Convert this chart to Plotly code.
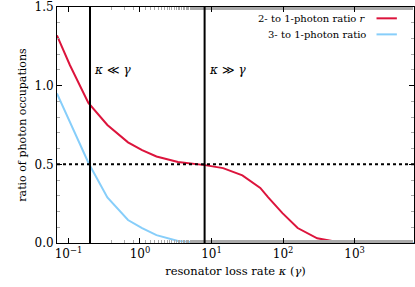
import math
import plotly.graph_objects as go

# data
kappa_red = [0.069, 0.105, 0.19, 0.35, 0.68, 1.07, 1.7, 3.4, 8.1, 14.5, 27, 48, 62, 98, 160, 300, 575, 1300, 7000]
ratio_2to1 = [1.32, 1.13, 0.89, 0.75, 0.64, 0.59, 0.55, 0.515, 0.495, 0.476, 0.43, 0.35, 0.29, 0.19, 0.095, 0.03, 0.006, 0.0, 0.0]
kappa_blue = [0.069, 0.19, 0.35, 0.68, 1.07, 1.7, 3.4, 8.1, 7000]
ratio_3to1 = [0.95, 0.51, 0.29, 0.146, 0.095, 0.05, 0.013, 0.0, 0.0]
regime_lines = [0.2, 8]
regime_labels = ["<i>κ</i> ≪ <i>γ</i>", "<i>κ</i> ≫ <i>γ</i>"]
half_level = 0.5
xtick_vals = [0.1, 1, 10, 100, 1000]
xtick_text = ["10<sup>−1</sup>", "10<sup>0</sup>", "10<sup>1</sup>", "10<sup>2</sup>", "10<sup>3</sup>"]
legend_names = ["2- to 1-photon ratio <i>r</i>", "3- to 1-photon ratio"]
colors = ["#dc143c", "#87cefa"]

FONT = "DejaVu Serif"

fig = go.Figure()
fig.add_trace(go.Scatter(x=kappa_red, y=ratio_2to1, mode="lines",
                         line=dict(color=colors[0], width=2), showlegend=False))
fig.add_trace(go.Scatter(x=kappa_blue, y=ratio_3to1, mode="lines",
                         line=dict(color=colors[1], width=2), showlegend=False))

for xv in regime_lines:
    fig.add_shape(type="line", xref="x", yref="paper", x0=xv, x1=xv, y0=0, y1=1,
                  line=dict(color="black", width=2))
fig.add_shape(type="line", xref="paper", yref="y", x0=0, x1=1, y0=half_level, y1=half_level,
              line=dict(color="black", width=2, dash="3px,3px"))

for xv, lab in zip(regime_lines, regime_labels):
    fig.add_annotation(x=math.log10(xv), y=1.1, xref="x", yref="y", text=lab, showarrow=False,
                       xanchor="left", xshift=2, font=dict(size=12, family=FONT, color="black"))

# legend (text left, line sample right)
for i, (name, c) in enumerate(zip(legend_names, colors)):
    yy = 0.952 - i * 0.068
    fig.add_annotation(x=0.872, y=yy, xref="paper", yref="paper", text=name, showarrow=False,
                       xanchor="right", yanchor="middle", font=dict(size=10, family=FONT, color="black"))
    fig.add_shape(type="line", xref="paper", yref="paper", x0=0.895, x1=0.952, y0=yy, y1=yy,
                  line=dict(color=c, width=2))

axis_common = dict(showline=True, linecolor="black", linewidth=1, mirror="allticks",
                   ticks="inside", ticklen=5, tickcolor="black", showgrid=False, zeroline=False,
                   tickfont=dict(size=12, family=FONT, color="black"))

fig.update_xaxes(type="log", range=[-1.16, 3.83], tickvals=xtick_vals, ticktext=xtick_text,
                 title=dict(text="resonator loss rate <i>κ</i> (<i>γ</i>)", font=dict(size=11.5, family=FONT, color="black"), standoff=6),
                 minor=dict(ticks="inside", ticklen=3, tickcolor="#aaaaaa"),
                 **axis_common)
fig.update_yaxes(range=[0, 1.5], tickvals=[0, 0.5, 1.0, 1.5], tickformat=".1f",
                 title=dict(text="ratio of photon occupations", font=dict(size=11, family=FONT, color="black"), standoff=5),
                 minor=dict(ticks="inside", ticklen=3, tickcolor="#aaaaaa", dtick=0.1),
                 **axis_common)

fig.update_layout(width=415, height=287, margin=dict(l=57, r=1, t=7, b=44),
                  plot_bgcolor="white", paper_bgcolor="white",
                  font=dict(family=FONT, color="black"))

fig.write_html("out.html", config={"displayModeBar": False},
               post_script="document.body.style.margin='0';")
